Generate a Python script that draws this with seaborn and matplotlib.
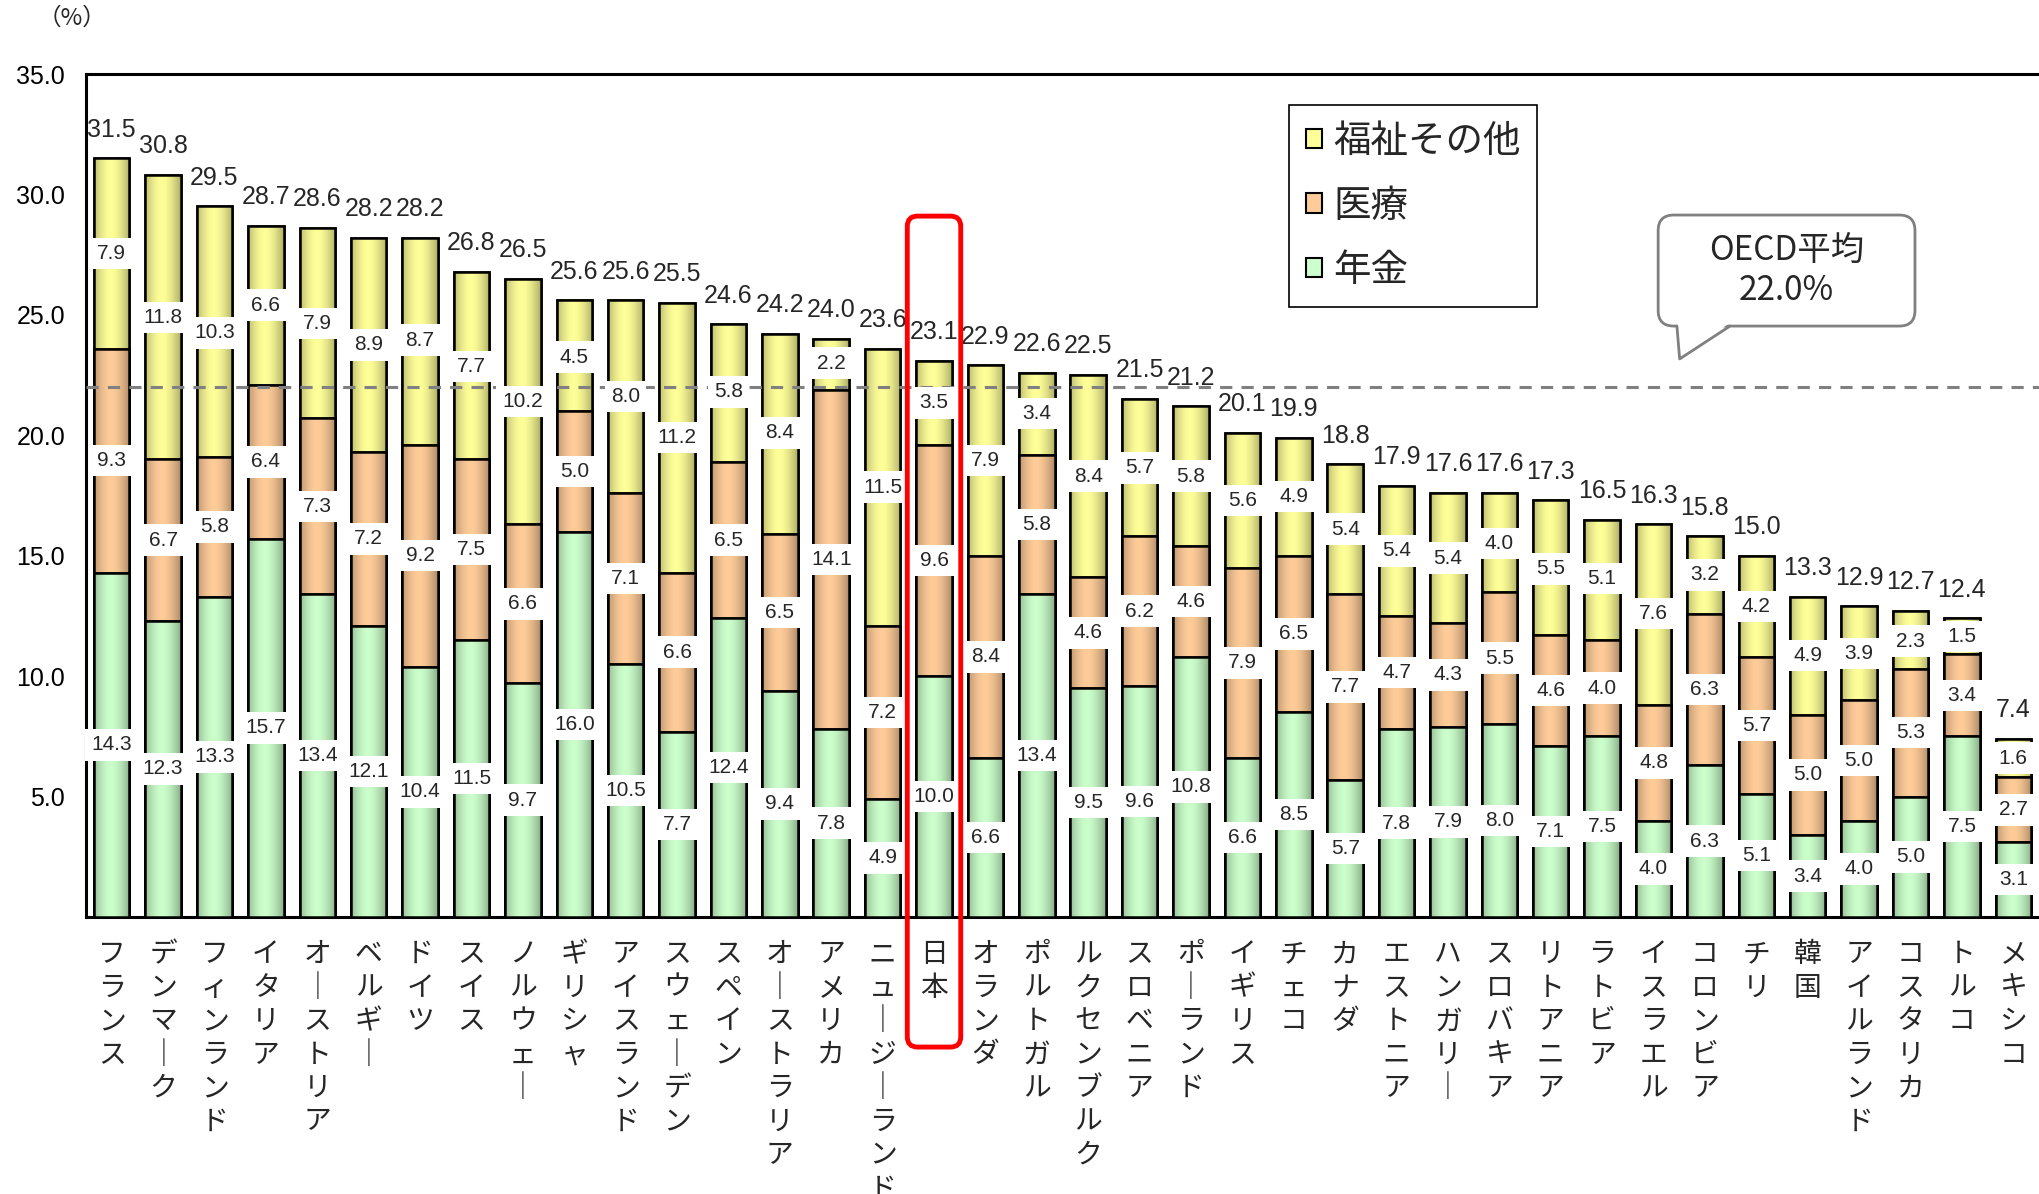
import numpy as np
import matplotlib
matplotlib.use("Agg")
import matplotlib.pyplot as plt
import matplotlib.colors as mcolors
import seaborn as sns
from matplotlib.patches import Patch, FancyBboxPatch, Polygon, Rectangle
from matplotlib.lines import Line2D

# --- data (% of GDP) ---
COUNTRIES = [
    "フランス", "デンマーク", "フィンランド", "イタリア", "オーストリア", "ベルギー",
    "ドイツ", "スイス", "ノルウェー", "ギリシャ", "アイスランド", "スウェーデン",
    "スペイン", "オーストラリア", "アメリカ", "ニュージーランド", "日本", "オランダ",
    "ポルトガル", "ルクセンブルク", "スロベニア", "ポーランド", "イギリス", "チェコ",
    "カナダ", "エストニア", "ハンガリー", "スロバキア", "リトアニア", "ラトビア",
    "イスラエル", "コロンビア", "チリ", "韓国", "アイルランド", "コスタリカ",
    "トルコ", "メキシコ",
]
PENSION = [14.3, 12.3, 13.3, 15.7, 13.4, 12.1, 10.4, 11.5, 9.7, 16.0, 10.5, 7.7,
           12.4, 9.4, 7.8, 4.9, 10.0, 6.6, 13.4, 9.5, 9.6, 10.8, 6.6, 8.5,
           5.7, 7.8, 7.9, 8.0, 7.1, 7.5, 4.0, 6.3, 5.1, 3.4, 4.0, 5.0, 7.5, 3.1]
HEALTH = [9.3, 6.7, 5.8, 6.4, 7.3, 7.2, 9.2, 7.5, 6.6, 5.0, 7.1, 6.6,
          6.5, 6.5, 14.1, 7.2, 9.6, 8.4, 5.8, 4.6, 6.2, 4.6, 7.9, 6.5,
          7.7, 4.7, 4.3, 5.5, 4.6, 4.0, 4.8, 6.3, 5.7, 5.0, 5.0, 5.3, 3.4, 2.7]
WELFARE = [7.9, 11.8, 10.3, 6.6, 7.9, 8.9, 8.7, 7.7, 10.2, 4.5, 8.0, 11.2,
           5.8, 8.4, 2.2, 11.5, 3.5, 7.9, 3.4, 8.4, 5.7, 5.8, 5.6, 4.9,
           5.4, 5.4, 5.4, 4.0, 5.5, 5.1, 7.6, 3.2, 4.2, 4.9, 3.9, 2.3, 1.5, 1.6]
TOTALS = [31.5, 30.8, 29.5, 28.7, 28.6, 28.2, 28.2, 26.8, 26.5, 25.6, 25.6, 25.5,
          24.6, 24.2, 24.0, 23.6, 23.1, 22.9, 22.6, 22.5, 21.5, 21.2, 20.1, 19.9,
          18.8, 17.9, 17.6, 17.6, 17.3, 16.5, 16.3, 15.8, 15.0, 13.3, 12.9, 12.7,
          12.4, 7.4]
YTICKS = [5, 10, 15, 20, 25, 30, 35]
OECD_AVG = 22.0
HIGHLIGHT = "日本"
LEGEND_LABELS = ["福祉その他", "医療", "年金"]

YELLOW = "#FFFF99"
ORANGE = "#FFCC99"
GREEN = "#CCFFCC"

sns.set_style("white")
plt.rcParams["font.family"] = ["Noto Sans CJK JP", "DejaVu Sans"]
NUM_FONT = ["Liberation Sans", "Noto Sans CJK JP"]


def vertical(name):
    # stack characters top to bottom, long vowel mark drawn as a vertical bar
    return "\n".join("｜" if ch == "ー" else ch for ch in name)


def shade_bars(ax, bars, color, z):
    """Excel-like cylinder shading: darker at both edges, light in the middle."""
    t = np.linspace(0, 1, 80)
    f = 1 - 0.32 * (np.abs(t - 0.47) / 0.53) ** 1.7
    rgb = np.array(mcolors.to_rgb(color))
    img = (f[:, None] * rgb[None, :])[None, :, :]
    for b in bars:
        x0, y0, w, h = b.get_x(), b.get_y(), b.get_width(), b.get_height()
        if h <= 0:
            continue
        im = ax.imshow(img, extent=(x0, x0 + w, y0, y0 + h), aspect="auto",
                       interpolation="bilinear", zorder=z + 0.1)
        im.set_clip_path(b)
        ax.add_patch(Rectangle((x0, y0), w, h, fc="none", ec="black",
                               lw=1.8, zorder=z + 0.2))


fig = plt.figure(figsize=(20.39, 11.94), dpi=100)
ax = fig.add_axes([86 / 2039, 277 / 1194, 1953 / 2039, 843 / 1194])

n = len(COUNTRIES)
lower_mid = [p + h for p, h in zip(PENSION, HEALTH)]

# stacked look: draw the cumulative heights back to front
layers = [(TOTALS, YELLOW), (lower_mid, ORANGE), (PENSION, GREEN)]
for k, (heights, col) in enumerate(layers):
    z = 2 + 0.3 * k
    before = len(ax.patches)
    sns.barplot(x=COUNTRIES, y=heights, color=col, saturation=1, width=0.69,
                edgecolor="black", linewidth=1.8, errorbar=None, ax=ax, zorder=z)
    shade_bars(ax, list(ax.patches)[before:], col, z)

# OECD average
ax.axhline(OECD_AVG, color="#808080", lw=2.2, ls=(0, (4, 3)), zorder=3)

# value labels
for i in range(n):
    bottoms = [0, PENSION[i], lower_mid[i]]
    vals = [PENSION[i], HEALTH[i], WELFARE[i]]
    for b, v in zip(bottoms, vals):
        ax.text(i, b + v / 2, f"{v:.1f}", ha="center", va="center", fontsize=15,
                family=NUM_FONT, zorder=5,
                bbox=dict(boxstyle="square,pad=0.3", fc="white", ec="none"))
    ax.annotate(f"{TOTALS[i]:.1f}", (i, TOTALS[i]), xytext=(0, 12),
                textcoords="offset points", ha="center", va="bottom",
                fontsize=18, family=NUM_FONT, zorder=5)

ax.set_xlim(-0.5, n - 0.5)
ax.set_ylim(0, 35)
ax.set_xlabel("")
ax.set_ylabel("")

ax.set_yticks(YTICKS)
ax.set_yticklabels([f"{v:.1f}" for v in YTICKS], fontsize=18, family=NUM_FONT)
ax.tick_params(axis="y", direction="out", length=5, width=1.5, pad=10, colors="black")

ax.set_xticks(range(n))
ax.set_xticklabels([vertical(c) for c in COUNTRIES], fontsize=20,
                   linespacing=1.15, va="top")
ax.tick_params(axis="x", which="major", length=0, pad=16)
ax.set_xticks(np.arange(0.5, n - 1, 1), minor=True)
ax.tick_params(axis="x", which="minor", direction="in", length=6, width=1.2)

for side in ["left", "bottom", "top"]:
    ax.spines[side].set_color("black")
    ax.spines[side].set_linewidth(2.2)
ax.spines["right"].set_visible(False)

# legend
handles = [Patch(fc=c, ec="black", lw=1.5) for c in (YELLOW, ORANGE, GREEN)]
leg = ax.legend(handles, LEGEND_LABELS, loc="upper left",
                bbox_to_anchor=(0.616, 0.963), borderaxespad=0, fontsize=27,
                frameon=True, fancybox=False, edgecolor="black", framealpha=1,
                handlelength=0.42, handleheight=0.42, handletextpad=0.3,
                labelspacing=0.68, borderpad=0.45)
leg.get_frame().set_linewidth(1.2)
leg.set_zorder(8)

# red frame around Japan
j = COUNTRIES.index(HIGHLIGHT)
ax.add_patch(FancyBboxPatch((j - 0.52, -5.4), 1.04, 34.5,
                            boxstyle="round,pad=0,rounding_size=0.2",
                            mutation_aspect=2.13, fc="none", ec="red", lw=3.5,
                            clip_on=False, zorder=6))

# speech bubble for the OECD average
bx0, bx1, by0, by1 = 0.805, 0.9365, 0.701, 0.8327
ax.add_patch(FancyBboxPatch((bx0, by0), bx1 - bx0, by1 - by0,
                            boxstyle="round,pad=0,rounding_size=0.008",
                            mutation_aspect=2.317, fc="white", ec="#808080",
                            lw=2, transform=ax.transAxes, zorder=7))
tail = [(0.8146, by0), (0.8418, by0), (0.816, 0.662)]
ax.add_patch(Polygon([(0.8146, by0 + 0.004), (0.8418, by0 + 0.004), (0.816, 0.662)],
                     closed=True, fc="white", ec="none", transform=ax.transAxes,
                     zorder=8))
ax.add_line(Line2D([tail[0][0], tail[2][0], tail[1][0]],
                   [tail[0][1], tail[2][1], tail[1][1]], color="#808080", lw=2,
                   transform=ax.transAxes, zorder=9))
ax.text((bx0 + bx1) / 2, (by0 + by1) / 2, "OECD平均\n22.0%", ha="center",
        va="center", fontsize=24, linespacing=1.2, transform=ax.transAxes,
        zorder=10)

fig.text(72 / 2039, 1 - 18 / 1194, "（%）", fontsize=17, ha="center", va="center")

fig.savefig("out.png", dpi=100)
